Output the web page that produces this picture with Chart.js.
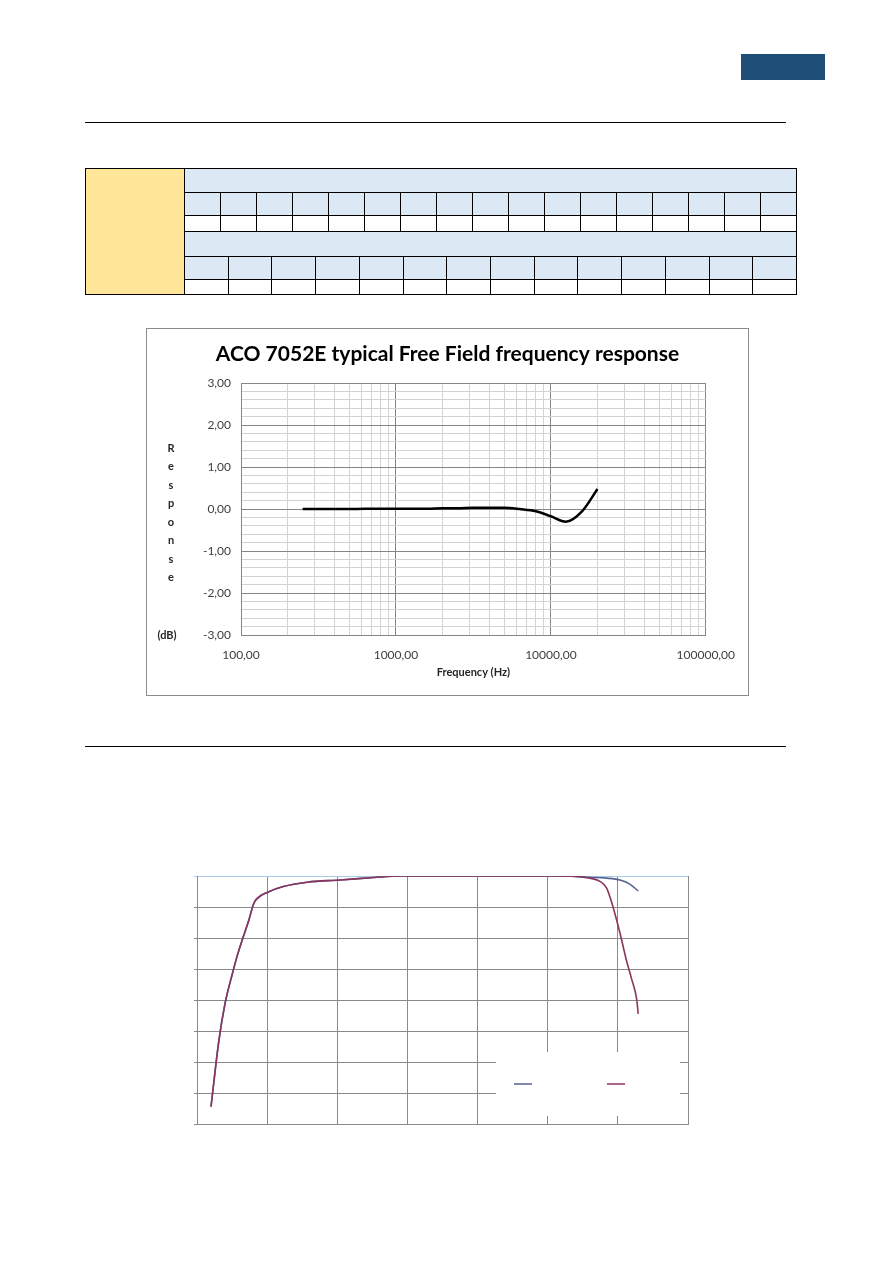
<!DOCTYPE html>
<html>
<head>
<meta charset="utf-8">
<title>ACO 7052E typical Free Field frequency response</title>
<script src="https://cdn.jsdelivr.net/npm/chart.js@4.4.0/dist/chart.umd.min.js"></script>
<style>
  body { margin: 0; background: #fff; width: 893px; height: 1263px; position: relative; overflow: hidden; font-family: Lato, sans-serif; }
  .tab { position: absolute; left: 741px; top: 54px; width: 84px; height: 26px; background: #1f4e79; }
  .rule { position: absolute; left: 85px; width: 701px; height: 0; border-top: 1px solid #000; }
  #spec { position: absolute; left: 85px; top: 168px; width: 712px; height: 127px; border: 1px solid #000; box-sizing: border-box; display: flex; }
  #spec .side { width: 98px; background: #ffe699; border-right: 1px solid #000; }
  #spec .body { flex: 1; display: flex; flex-direction: column; }
  #spec .row { display: flex; border-bottom: 1px solid #000; box-sizing: border-box; }
  #spec .row:last-child { border-bottom: none; }
  #spec .cell { flex: 1; border-right: 1px solid #000; }
  #spec .cell:last-child { border-right: none; }
  #spec .blue { background: #dde8f5; }
  #box1 { position: absolute; left: 146px; top: 328px; width: 603px; height: 368px; border: 1px solid #8c8c8c; box-sizing: border-box; }
  #wrap1 { position: relative; width: 601px; height: 366px; }
  #wrap2 { position: absolute; left: 150px; top: 850px; width: 560px; height: 290px; }
</style>
</head>
<body>
<div class="tab"></div>
<div class="rule" style="top:122px"></div>
<div id="spec">
  <div class="side"></div>
  <div class="body" id="specBody"></div>
</div>

<div id="box1"><div id="wrap1"><canvas id="freeField"></canvas></div></div>

<div class="rule" style="top:746px"></div>

<div id="wrap2"><canvas id="rolloff"></canvas></div>

<script>
// ---- free field response (top chart) ----
const freqHz = [250, 315, 400, 500, 630, 800, 1000, 1250, 1600, 2000, 2500, 3150, 4000, 5000, 6300, 8000, 10000, 12500, 16000, 20000];
const responseDb = [0.00, 0.00, 0.00, 0.00, 0.01, 0.01, 0.01, 0.01, 0.01, 0.02, 0.02, 0.03, 0.03, 0.03, 0.00, -0.05, -0.17, -0.30, -0.04, 0.48];
const freqGrid = [100, 200, 300, 400, 500, 600, 700, 800, 900,
                  1000, 2000, 3000, 4000, 5000, 6000, 7000, 8000, 9000,
                  10000, 20000, 30000, 40000, 50000, 60000, 70000, 80000, 90000, 100000];
const yTitleLetters = ['R', 'e', 's', 'p', 'o', 'n', 's', 'e'];

// ---- roll-off curves (bottom chart), x in decades, y in dB ----
const lowX = [0.20, 0.31, 0.40, 0.50, 0.57, 0.66, 0.74, 0.81, 0.86, 1.00, 1.23, 1.57, 2.04, 2.52, 2.90, 3.50, 4.50, 5.20, 5.45];
const lowY = [-74.4, -53.4, -41.1, -31.9, -26.0, -19.6, -14.2, -8.8, -7.2, -5.3, -3.4, -2.0, -1.3, -0.5, 0, 0, 0, 0, -0.2];
const wideTailX = [5.60, 5.84, 6.03, 6.17, 6.29];
const wideTailY = [-0.4, -0.7, -1.3, -2.6, -4.8];
const narrowTailX = [5.60, 5.75, 5.84, 5.93, 6.03, 6.12, 6.20, 6.27, 6.29];
const narrowTailY = [-0.7, -1.8, -3.9, -9.9, -18.4, -27.0, -33.5, -40.0, -44.5];

// table skeleton (cells are empty in the source)
const specRows = [
  { cls: 'blue', cells: 1, h: 24 },
  { cls: 'blue', cells: 17, h: 23 },
  { cls: '', cells: 17, h: 16 },
  { cls: 'blue', cells: 1, h: 25 },
  { cls: 'blue', cells: 14, h: 23 },
  { cls: '', cells: 14, h: 14 }
];
const body = document.getElementById('specBody');
specRows.forEach(r => {
  const row = document.createElement('div');
  row.className = 'row ' + r.cls;
  row.style.height = r.h + 'px';
  for (let i = 0; i < r.cells; i++) {
    const c = document.createElement('div');
    c.className = 'cell';
    row.appendChild(c);
  }
  body.appendChild(row);
});

const pts = (xs, ys) => xs.map((x, i) => ({ x: x, y: ys[i] }));
const isDecade = v => Math.abs(Math.log10(v) - Math.round(Math.log10(v))) < 1e-9;
const comma = v => v.toFixed(2).replace('.', ',');

const stackedTitle = {
  id: 'stackedTitle',
  afterDraw(chart) {
    const ctx = chart.ctx;
    ctx.save();
    ctx.fillStyle = '#262626';
    ctx.font = 'bold 11px Lato, sans-serif';
    ctx.textAlign = 'center';
    ctx.textBaseline = 'middle';
    yTitleLetters.forEach((ch, i) => ctx.fillText(ch, 24, 119 + i * 18.5));
    ctx.fillText('(dB)', 20, 306);
    ctx.restore();
  }
};

new Chart(document.getElementById('freeField'), {
  type: 'line',
  data: {
    datasets: [{
      data: pts(freqHz, responseDb),
      borderColor: '#000',
      borderWidth: 2.5,
      pointRadius: 0,
      cubicInterpolationMode: 'monotone'
    }]
  },
  options: {
    responsive: true,
    maintainAspectRatio: false,
    animation: false,
    layout: { padding: 0 },
    plugins: {
      legend: { display: false },
      tooltip: { enabled: false },
      title: {
        display: true,
        text: 'ACO 7052E typical Free Field frequency response',
        color: '#000',
        font: { family: 'Lato', size: 21, weight: 'bold' },
        padding: { top: 13, bottom: 16 }
      }
    },
    scales: {
      x: {
        type: 'logarithmic',
        min: 100,
        max: 100000,
        afterBuildTicks: s => { s.ticks = freqGrid.map(v => ({ value: v, major: isDecade(v) })); },
        afterFit: s => { s.height = 60; },
        grid: {
          drawTicks: false,
          color: c => (c.tick && isDecade(c.tick.value)) ? '#868686' : '#d2d2d2'
        },
        border: { color: '#868686' },
        ticks: {
          autoSkip: false,
          maxRotation: 0,
          padding: 13,
          color: '#404040',
          font: { family: 'Lato', size: 12 },
          callback: v => isDecade(v) ? comma(v) : ''
        },
        title: {
          display: true,
          text: 'Frequency (Hz)',
          color: '#262626',
          font: { family: 'Lato', size: 11, weight: 'bold' },
          padding: { top: 0, bottom: 16 }
        }
      },
      y: {
        min: -3,
        max: 3,
        afterFit: s => { s.width = 94; },
        grid: {
          drawTicks: false,
          color: c => (c.tick && Math.abs(c.tick.value - Math.round(c.tick.value)) < 1e-6) ? '#868686' : '#d2d2d2'
        },
        border: { color: '#868686' },
        ticks: {
          stepSize: 0.2,
          autoSkip: false,
          padding: 10,
          color: '#404040',
          font: { family: 'Lato', size: 12 },
          callback: v => Math.abs(v - Math.round(v)) < 1e-6 ? comma(Math.round(v)) : ''
        }
      },
      // empty right-hand margin so the title stays centred on the whole box
      yRight: {
        position: 'right',
        min: -3,
        max: 3,
        afterFit: s => { s.width = 42; },
        grid: { display: false },
        border: { display: false },
        ticks: { display: false }
      }
    }
  },
  plugins: [stackedTitle]
});

const swatchBox = {
  id: 'swatchBox',
  afterDraw(chart) {
    const ctx = chart.ctx;
    ctx.save();
    ctx.fillStyle = '#fff';
    ctx.fillRect(346, 202, 184, 64);
    ctx.lineWidth = 1.5;
    chart.data.datasets.forEach((ds, i) => {
      ctx.strokeStyle = ds.borderColor;
      ctx.beginPath();
      const x0 = i === 0 ? 364 : 457;
      ctx.moveTo(x0, 234);
      ctx.lineTo(x0 + 18, 234);
      ctx.stroke();
    });
    ctx.restore();
  }
};

new Chart(document.getElementById('rolloff'), {
  type: 'line',
  data: {
    datasets: [
      {
        data: pts(lowX.concat(wideTailX), lowY.concat(wideTailY)),
        borderColor: '#55628f',
        borderWidth: 1.6,
        pointRadius: 0,
        cubicInterpolationMode: 'monotone',
        order: 1
      },
      {
        data: pts(lowX.concat(narrowTailX), lowY.concat(narrowTailY)),
        borderColor: '#88365f',
        borderWidth: 1.6,
        pointRadius: 0,
        cubicInterpolationMode: 'monotone',
        order: 0
      }
    ]
  },
  options: {
    responsive: true,
    maintainAspectRatio: false,
    animation: false,
    layout: { padding: { left: 44, right: 22, top: 26, bottom: 16 } },
    plugins: { legend: { display: false }, tooltip: { enabled: false } },
    scales: {
      x: {
        type: 'linear',
        min: 0,
        max: 7,
        afterFit: s => { s.height = 0; },
        grid: { drawTicks: false, color: '#8a8a8a' },
        border: { color: '#8a8a8a' },
        ticks: { display: false, stepSize: 1 }
      },
      y: {
        min: -80,
        max: 0,
        afterFit: s => { s.width = 3; },
        grid: {
          tickLength: 3,
          color: c => (c.tick && c.tick.value === 0) ? '#a9cbe9' : '#8a8a8a'
        },
        border: { color: '#8a8a8a' },
        ticks: { display: false, stepSize: 10 }
      }
    }
  },
  plugins: [swatchBox]
});
</script>
</body>
</html>
